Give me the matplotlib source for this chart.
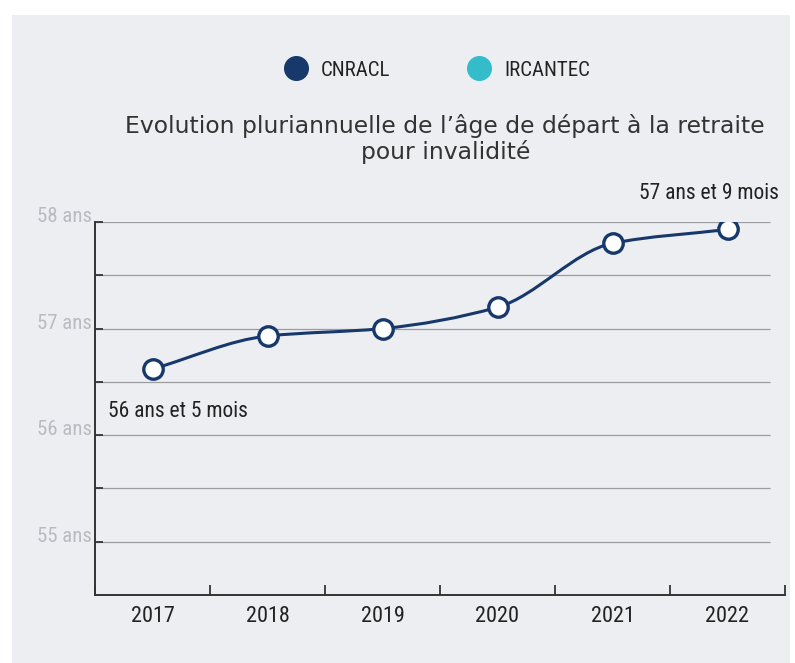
import matplotlib
matplotlib.use('Agg')
import matplotlib.pyplot as plt
import numpy as np
from matplotlib.path import Path
from matplotlib.patches import PathPatch, Rectangle
from matplotlib.lines import Line2D

# données
annees = ['2017', '2018', '2019', '2020', '2021', '2022']
age_cnracl = [56.62, 56.93, 57.0, 57.20, 57.80, 57.93]
yticks_val = [55, 56, 57, 58]
yticks_lab = ['55 ans', '56 ans', '57 ans', '58 ans']
label_debut = '56 ans et 5 mois'
label_fin = '57 ans et 9 mois'
titre = "Evolution pluriannuelle de l\u2019âge de départ à la retraite\npour invalidité"

navy = '#17386a'
teal = '#35bccb'
fond = '#eceef2'
cond = ['Roboto Condensed', 'DejaVu Sans']

fig = plt.figure(figsize=(7.95, 6.63), dpi=100, facecolor='white')
fig.add_artist(Rectangle((12/795, 0), 778/795, 1 - 15/663, transform=fig.transFigure,
                         facecolor=fond, edgecolor='none', zorder=0))

ax = fig.add_axes([95/795, 1 - 595/663, 690/795, 373/663])
ax.set_facecolor('none')

x = np.arange(len(annees))
y = np.array(age_cnracl)

# courbe lissée (tangentes monotones, segments de Bézier)
d = np.diff(y)
m = np.zeros(len(y))
m[0], m[-1] = d[0], d[-1]
for i in range(1, len(y) - 1):
    if d[i-1] * d[i] > 0:
        m[i] = 2 / (1/d[i-1] + 1/d[i])
verts = [(x[0], y[0])]
codes = [Path.MOVETO]
for i in range(len(y) - 1):
    verts += [(x[i] + 1/3, y[i] + m[i]/3), (x[i+1] - 1/3, y[i+1] - m[i+1]/3), (x[i+1], y[i+1])]
    codes += [Path.CURVE4] * 3
ax.add_patch(PathPatch(Path(verts, codes), facecolor='none', edgecolor=navy, lw=2.2, zorder=3))
ax.plot(x, y, linestyle='none', marker='o', markersize=14, markerfacecolor='white',
        markeredgecolor=navy, markeredgewidth=2.4, zorder=4)

# grille
for v in np.arange(55, 58.01, 0.5):
    ax.hlines(v, -0.5, 5.37, color='#9a9ca0', lw=0.9, zorder=1)

ax.set_xlim(-0.5, 5.5)
ax.set_ylim(54.5, 58)
ax.set_xticks(x)
ax.set_xticklabels(annees, family=cond, fontsize=16, color='#222222')
ax.set_xticks(np.arange(-0.5, 5.6, 1), minor=True)
ax.tick_params(axis='x', which='major', length=0, pad=8)
ax.tick_params(axis='x', which='minor', direction='in', length=7, width=1.3, color='#333333')
ax.set_yticks(np.arange(55, 58.01, 0.5))
ax.set_yticklabels(['' if v not in yticks_val else yticks_lab[yticks_val.index(v)]
                    for v in np.arange(55, 58.01, 0.5)],
                   family=cond, fontsize=15, color='#b8bbc0')
ax.tick_params(axis='y', direction='in', length=6, width=1.3, color='#333333', pad=2)
for t in ax.get_yticklabels():
    t.set_va('baseline')
for s in ['top', 'right']:
    ax.spines[s].set_visible(False)
for s in ['left', 'bottom']:
    ax.spines[s].set_color('#333333')
    ax.spines[s].set_linewidth(1.4)

ax.annotate(label_debut, (x[0], y[0]), xytext=(-45, -42), textcoords='offset pixels',
            family=cond, fontsize=15.5, color='#222222', ha='left', va='center')
ax.annotate(label_fin, (x[-1], y[-1]), xytext=(51, 36), textcoords='offset pixels',
            family=cond, fontsize=15.5, color='#222222', ha='right', va='center')

fig.text(0.56, 1 - 139/663, titre, ha='center', va='center', fontsize=16.9,
         family='DejaVu Sans', color='#333333', linespacing=1.15)

handles = [Line2D([], [], linestyle='none', marker='o', markersize=17, color=navy),
           Line2D([], [], linestyle='none', marker='o', markersize=17, color=teal)]
leg = fig.legend(handles, ['CNRACL', 'IRCANTEC'], loc='center', bbox_to_anchor=(0.549, 1 - 70/663),
                 ncol=2, frameon=False, handlelength=1.2, handletextpad=0.6, columnspacing=3.66,
                 prop={'family': cond, 'size': 15})
for t in leg.get_texts():
    t.set_color('#222222')

fig.savefig('out.png', dpi=100, facecolor='white')
